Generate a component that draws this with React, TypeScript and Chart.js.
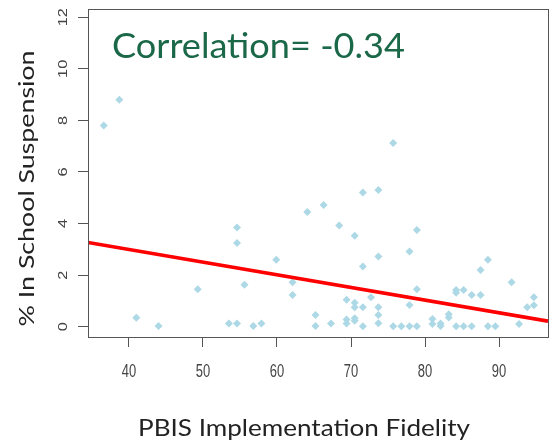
import React, { useEffect, useRef } from "react";
import { Chart, registerables } from "chart.js";

Chart.register(...registerables);

// PBIS implementation fidelity (x) and % in-school suspension (y), one entry per school
const FIDELITY = [
  36.6, 38.7, 41.0, 44.0, 49.3, 53.5, 54.6, 54.6, 54.6, 55.6,
  56.8, 57.9, 59.9, 62.1, 62.1, 64.1, 66.3, 65.2, 65.2, 67.3,
  68.4, 69.4, 69.4, 69.4, 70.5, 70.5, 70.5, 70.5, 70.5, 71.6,
  71.6, 71.6, 71.6, 72.7, 73.7, 73.7, 73.7, 73.7, 73.7, 75.7,
  75.7, 76.8, 77.9, 77.9, 77.9, 78.9, 78.9, 78.9, 81.0, 81.0,
  82.1, 82.1, 83.2, 83.2, 84.2, 84.2, 85.2, 86.3, 87.5, 87.5,
  88.5, 84.2, 85.2, 86.3, 88.5, 89.5, 91.7, 92.7, 93.8, 94.7,
  94.7,
];
const SUSPENSION = [
  7.8, 8.8, 0.35, 0.03, 1.45, 0.12, 0.12, 3.85, 3.25, 1.63,
  0.03, 0.12, 2.6, 1.72, 1.23, 4.45, 4.72, 0.45, 0.03, 0.12,
  3.92, 1.04, 0.28, 0.12, 3.53, 0.93, 0.75, 0.33, 0.23, 5.2,
  2.33, 0.75, 0.02, 1.14, 5.3, 2.72, 0.75, 0.45, 0.13, 7.12,
  0.02, 0.02, 2.92, 0.84, 0.02, 3.75, 1.45, 0.02, 0.3, 0.1,
  0.12, 0.03, 0.48, 0.36, 1.42, 1.32, 1.42, 1.23, 1.23, 2.2,
  2.6, 0.02, 0.02, 0.02, 0.02, 0.02, 1.72, 0.1, 0.75, 1.14,
  0.83,
];

const X_TICKS = [40, 50, 60, 70, 80, 90];
const Y_TICKS = [0, 2, 4, 6, 8, 10, 12];
const X_MIN = 34.47;
const X_MAX = 96.61;
const Y_MIN = -0.4;
const Y_MAX = 12.32;

const REG_INTERCEPT = 4.96;
const REG_SLOPE = -0.0491;

const CORRELATION_LABEL = "Correlation= -0.34";
const X_TITLE = "PBIS Implementation Fidelity";
const Y_TITLE = "% In School Suspension";

type TextOpts = {
  font: string;
  color: string;
  rotation?: number;
  stretch?: number;
  width?: number;
  align?: CanvasTextAlign;
};

function drawText(ctx: CanvasRenderingContext2D, text: string, x: number, y: number, o: TextOpts) {
  ctx.save();
  ctx.font = o.font;
  ctx.fillStyle = o.color;
  ctx.textAlign = o.align || "center";
  ctx.textBaseline = "alphabetic";
  ctx.translate(x, y);
  ctx.rotate(o.rotation || 0);
  let s = o.stretch || 1;
  if (o.width) s = o.width / ctx.measureText(text).width;
  ctx.scale(s, 1);
  ctx.fillText(text, 0, 0);
  ctx.restore();
}

const decorPlugin = {
  id: "decor",
  afterDraw(chart: any) {
    const ctx: CanvasRenderingContext2D = chart.ctx;
    const { left, right, top, bottom } = chart.chartArea;
    const xs = chart.scales.x;
    const ys = chart.scales.y;

    // plot box
    ctx.save();
    ctx.strokeStyle = "#555555";
    ctx.lineWidth = 1;
    ctx.strokeRect(left + 0.5, top + 0.5, right - left, bottom - top);
    ctx.restore();

    // x tick labels
    X_TICKS.forEach((v) => {
      drawText(ctx, String(v), xs.getPixelForValue(v), bottom + 39.7, {
        font: '18px "Liberation Sans", Arial, sans-serif',
        color: "#444444",
        stretch: 0.72,
      });
    });

    // y tick labels (rotated)
    Y_TICKS.forEach((v) => {
      drawText(ctx, String(v), left - 21, ys.getPixelForValue(v), {
        font: '12.6px "Liberation Sans", Arial, sans-serif',
        color: "#444444",
        rotation: -Math.PI / 2,
        stretch: 1.3,
      });
    });

    // axis titles
    drawText(ctx, X_TITLE, 304, 436, {
      font: '23px Lato, "Open Sans", sans-serif',
      color: "#222222",
      width: 332,
    });
    drawText(ctx, Y_TITLE, 33.5, 188.5, {
      font: '21px Lato, "Open Sans", sans-serif',
      color: "#222222",
      rotation: -Math.PI / 2,
      width: 276,
    });

    // correlation annotation
    drawText(ctx, CORRELATION_LABEL, left + 24, top + 48.5, {
      font: '34px Lato, "Open Sans", sans-serif',
      color: "#1a6848",
      align: "left",
      width: 293,
    });
  },
};

export default function App() {
  const canvasRef = useRef<HTMLCanvasElement | null>(null);

  useEffect(() => {
    const canvas = canvasRef.current;
    if (!canvas) return;
    const points = FIDELITY.map((x, i) => ({ x, y: SUSPENSION[i] }));
    const line = [X_MIN, X_MAX].map((x) => ({ x, y: REG_INTERCEPT + REG_SLOPE * x }));

    const chart = new Chart(canvas, {
      type: "scatter",
      data: {
        datasets: [
          {
            type: "line",
            label: "fit",
            data: line,
            borderColor: "#ff0000",
            borderWidth: 3.6,
            pointRadius: 0,
            fill: false,
          } as any,
          {
            label: "schools",
            data: points,
            pointStyle: "rectRot",
            pointRadius: 4,
            backgroundColor: "#add8e6",
            borderColor: "#add8e6",
            borderWidth: 0,
          },
        ],
      },
      options: {
        responsive: false,
        animation: false,
        devicePixelRatio: 1,
        layout: { padding: { top: 9, right: 0, left: 0, bottom: 0 } },
        plugins: { legend: { display: false }, tooltip: { enabled: false } },
        scales: {
          x: {
            type: "linear",
            position: "bottom",
            min: X_MIN,
            max: X_MAX,
            afterBuildTicks: (s: any) => {
              s.ticks = X_TICKS.map((value) => ({ value }));
            },
            afterFit: (s: any) => {
              s.height = 105;
            },
            ticks: { display: false },
            grid: {
              drawOnChartArea: false,
              drawTicks: true,
              tickLength: 10,
              color: "#555555",
              lineWidth: 1,
            },
            border: { display: false },
          },
          y: {
            type: "linear",
            position: "left",
            min: Y_MIN,
            max: Y_MAX,
            afterBuildTicks: (s: any) => {
              s.ticks = Y_TICKS.map((value) => ({ value }));
            },
            afterFit: (s: any) => {
              s.width = 88;
            },
            ticks: { display: false },
            grid: {
              drawOnChartArea: false,
              drawTicks: true,
              tickLength: 10,
              color: "#555555",
              lineWidth: 1,
            },
            border: { display: false },
          },
        },
      },
      plugins: [decorPlugin],
    });

    return () => chart.destroy();
  }, []);

  return (
    <div style={{ position: "absolute", left: 0, top: 0, width: 552, height: 442, overflow: "hidden", background: "#ffffff" }}>
      <canvas ref={canvasRef} width={552} height={442} style={{ display: "block" }} />
    </div>
  );
}
